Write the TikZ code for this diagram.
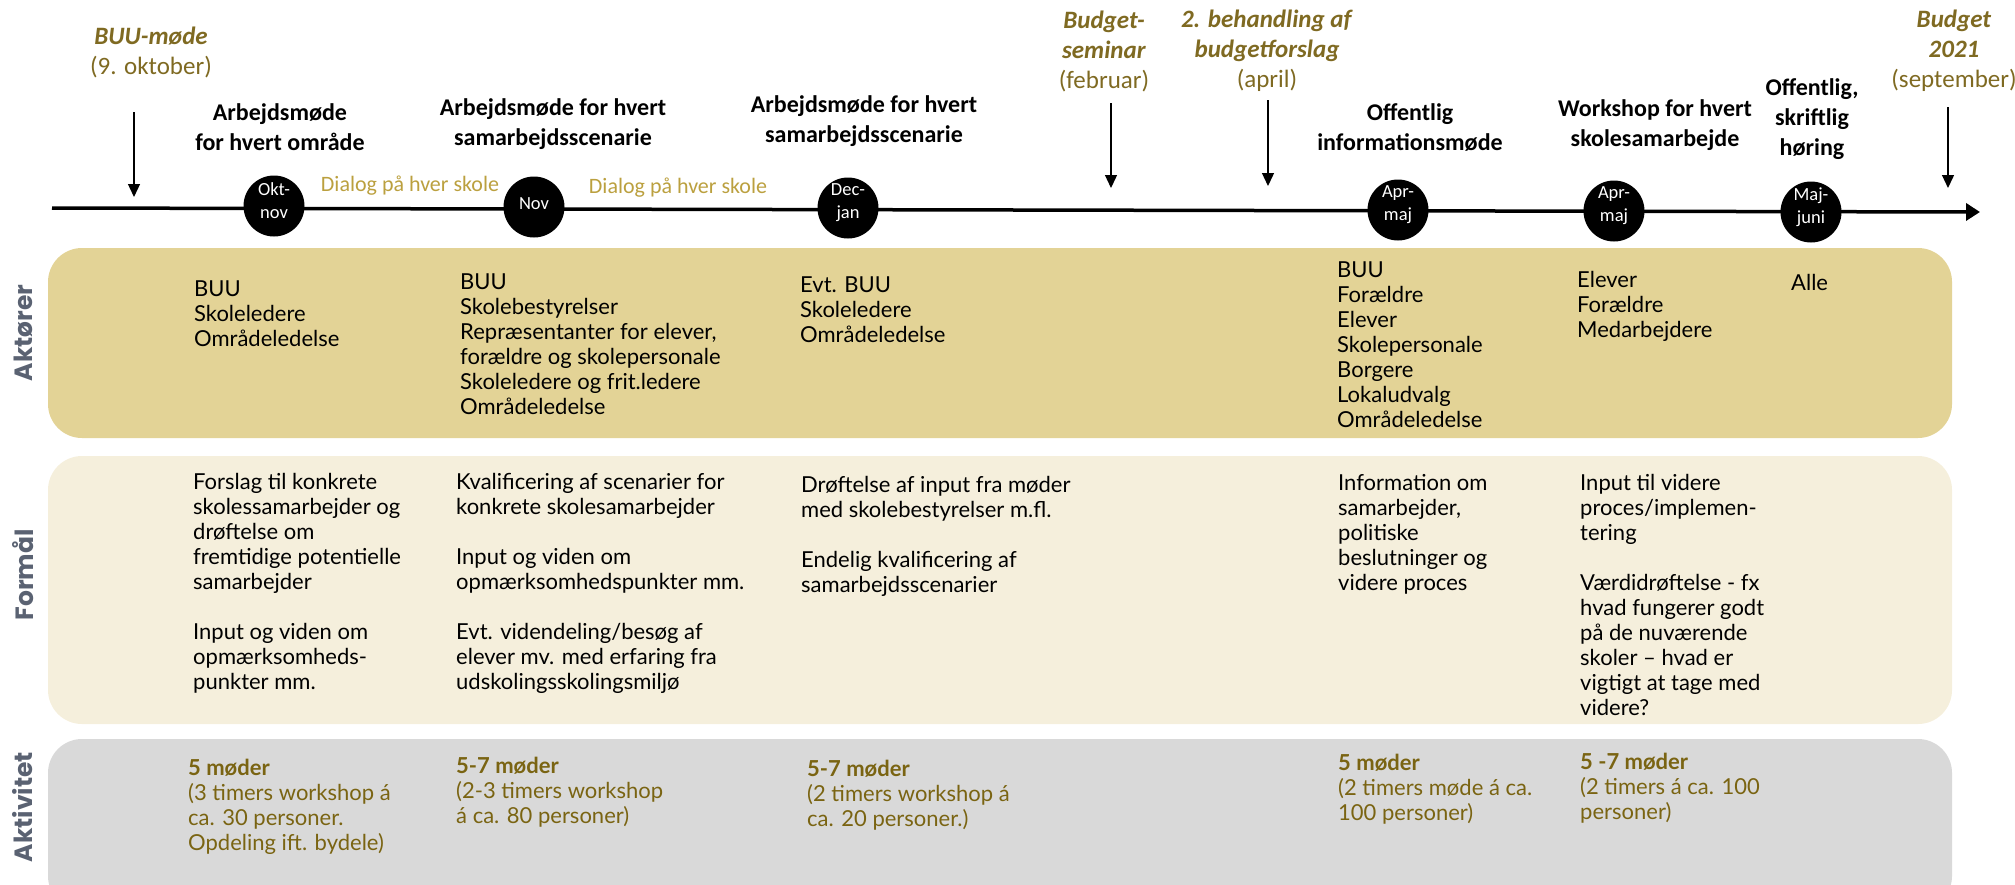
\documentclass[tikz,border=0pt]{standalone}
\usepackage{fontspec}
\setmainfont{Lato}
\newfontfamily\titlefont{Carlito}
\newfontfamily\labfont{Poppins}
\usetikzlibrary{arrows.meta}
\definecolor{goldA}{HTML}{7F6A22}
\definecolor{goldB}{HTML}{BBA03F}
\definecolor{goldC}{HTML}{7A6412}
\definecolor{boxA}{HTML}{E3D396}
\definecolor{boxB}{HTML}{F5EFDC}
\definecolor{boxC}{HTML}{D9D9D9}
\definecolor{labgray}{HTML}{5A6272}
\begin{document}
\begin{tikzpicture}[x=1pt,y=-1pt,
  toplab/.style={align=center, inner sep=0pt, text=goldA, font=\fontsize{25}{30}\selectfont\titlefont},
  ttl/.style={align=center, inner sep=0pt, font=\fontsize{24}{30}\selectfont\titlefont\bfseries},
  dot/.style={circle, fill=black, minimum size=61pt, inner sep=0pt},
  dottext/.style={align=center, inner sep=0pt, text=white, font=\fontsize{18.5}{23}\selectfont\titlefont},
  dialog/.style={inner sep=0pt, text=goldB, font=\fontsize{22}{26}\selectfont\titlefont},
  marker/.style={line width=1.3pt, -{Triangle[length=13pt,width=12pt]}},
  body/.style={anchor=north west, inner sep=0pt, align=left, font=\fontsize{22}{25}\selectfont},
  act/.style={body, text=goldC},
  rowlab/.style={rotate=90, inner sep=0pt, text=labgray, font=\fontsize{25}{30}\selectfont\labfont\bfseries}
]
\useasboundingbox (0,0) rectangle (2015,884);
\clip (0,0) rectangle (2015,884);

% row boxes
\fill[boxA, rounded corners=34pt] (48,248) rectangle (1952,438);
\fill[boxB, rounded corners=34pt] (48,456) rectangle (1952,724);
\fill[boxC, rounded corners=34pt] (48,739) rectangle (1952,910);

% row labels
\node[rowlab] (lakt) at (23,333) {Aktører};
\node[rowlab] (lfor) at (23,575) {Formål};
\node[rowlab] (lact) at (23,807) {Aktivitet};

% timeline
\coordinate (tl0) at (52,208);
\coordinate (tl1) at (1980,212);
\draw[line width=3.5pt, -{Triangle[length=14pt,width=17pt]}] (tl0) -- (tl1);

% milestone circles
\node[dot] (c1) at (274,206) {};
\node[dot] (c2) at (534,207) {};
\node[dot] (c3) at (848,208) {};
\node[dot] (c4) at (1398,210) {};
\node[dot] (c5) at (1614,211) {};
\node[dot] (c6) at (1811,212) {};
\node[dottext] (c1t) at ([yshift=5pt]c1.center) {Okt-\\nov};
\node[dottext] (c2t) at ([yshift=3pt]c2.center) {Nov};
\node[dottext] (c3t) at ([yshift=5pt]c3.center) {Dec-\\jan};
\node[dottext] (c4t) at ([yshift=5pt]c4.center) {Apr-\\maj};
\node[dottext] (c5t) at ([yshift=5pt]c5.center) {Apr-\\maj};
\node[dottext] (c6t) at ([yshift=5pt]c6.center) {Maj-\\juni};

% dialog labels
\node[dialog] (d1) at (410,186) {Dialog på hver skole};
\node[dialog] (d2) at (678,188) {Dialog på hver skole};

% top political milestones
\node[toplab] (buu) at (151,52) {\textbf{\textit{BUU-møde}}\\(9. oktober)};
\node[toplab] (bsem) at (1104,51) {\textbf{\textit{Budget-}}\\\textbf{\textit{seminar}}\\(februar)};
\node[toplab] (beh) at (1267,51) {\textbf{\textit{2. behandling af}}\\\textbf{\textit{budgetforslag}}\\(april)};
\node[toplab] (b21) at (1954,51) {\textbf{\textit{Budget}}\\\textbf{\textit{2021}}\\(september)};

\coordinate (a1s) at (134,112); \coordinate (a1e) at (134,197);
\coordinate (a2s) at (1111,103); \coordinate (a2e) at (1111,188);
\coordinate (a3s) at (1268,100); \coordinate (a3e) at (1268,186);
\coordinate (a4s) at (1948,107); \coordinate (a4e) at (1948,188);
\draw[marker] (a1s) -- (a1e);
\draw[marker] (a2s) -- (a2e);
\draw[marker] (a3s) -- (a3e);
\draw[marker] (a4s) -- (a4e);

% meeting titles
\node[ttl] (t1) at (280,127) {Arbejdsmøde\\for hvert område};
\node[ttl] (t2) at (553,124) {Arbejdsmøde for hvert\\samarbejdsscenarie};
\node[ttl] (t3) at (864,121) {Arbejdsmøde for hvert\\samarbejdsscenarie};
\node[ttl] (t4) at (1410,128) {Offentlig\\informationsmøde};
\node[ttl] (t5) at (1655,125) {Workshop for hvert\\skolesamarbejde};
\node[ttl] (t6) at (1812,119) {Offentlig,\\skriftlig\\høring};

% Aktører
\node[body] (ak1) at (194,279) {\strut BUU\\Skoleledere\\Områdeledelse};
\node[body] (ak2) at (460,272) {\strut BUU\\Skolebestyrelser\\Repræsentanter for elever,\\forældre og skolepersonale\\Skoleledere og frit.ledere\\Områdeledelse};
\node[body] (ak3) at (800,275) {\strut Evt. BUU\\Skoleledere\\Områdeledelse};
\node[body] (ak4) at (1337,260) {\strut BUU\\Forældre\\Elever\\Skolepersonale\\Borgere\\Lokaludvalg\\Områdeledelse};
\node[body] (ak5) at (1577,270) {\strut Elever\\Forældre\\Medarbejdere};
\node[body] (ak6) at (1791,273) {\strut Alle};

% Formål
\node[body] (fo1) at (193,472) {\strut Forslag til konkrete\\skolessamarbejder og\\drøftelse om\\fremtidige potentielle\\samarbejder\\[25pt]Input og viden om\\opmærksomheds-\\punkter mm.};
\node[body] (fo2) at (456,472) {\strut Kvalificering af scenarier for\\konkrete skolesamarbejder\\[25pt]Input og viden om\\opmærksomhedspunkter mm.\\[25pt]Evt. videndeling/besøg af\\elever mv. med erfaring fra\\udskolingsskolingsmiljø};
\node[body] (fo3) at (801,475) {\strut Drøftelse af input fra møder\\med skolebestyrelser m.fl.\\[25pt]Endelig kvalificering af\\samarbejdsscenarier};
\node[body] (fo4) at (1338,473) {\strut Information om\\samarbejder,\\politiske\\beslutninger og\\videre proces};
\node[body] (fo5) at (1580,473) {\strut Input til videre\\proces/implemen-\\tering\\[25pt]Værdidrøftelse - fx\\hvad fungerer godt\\på de nuværende\\skoler – hvad er\\vigtigt at tage med\\videre?};

% Aktivitet
\node[act] (ac1) at (188,758) {\strut\textbf{5 møder}\\(3 timers workshop á\\ca. 30 personer.\\Opdeling ift. bydele)};
\node[act] (ac2) at (456,756) {\strut\textbf{5-7 møder}\\(2-3 timers workshop\\á ca. 80 personer)};
\node[act] (ac3) at (807,759) {\strut\textbf{5-7 møder}\\(2 timers workshop á\\ca. 20 personer.)};
\node[act] (ac4) at (1338,753) {\strut\textbf{5 møder}\\(2 timers møde á ca.\\100 personer)};
\node[act] (ac5) at (1580,752) {\strut\textbf{5 -7 møder}\\(2 timers á ca. 100\\personer)};
\end{tikzpicture}
\end{document}
